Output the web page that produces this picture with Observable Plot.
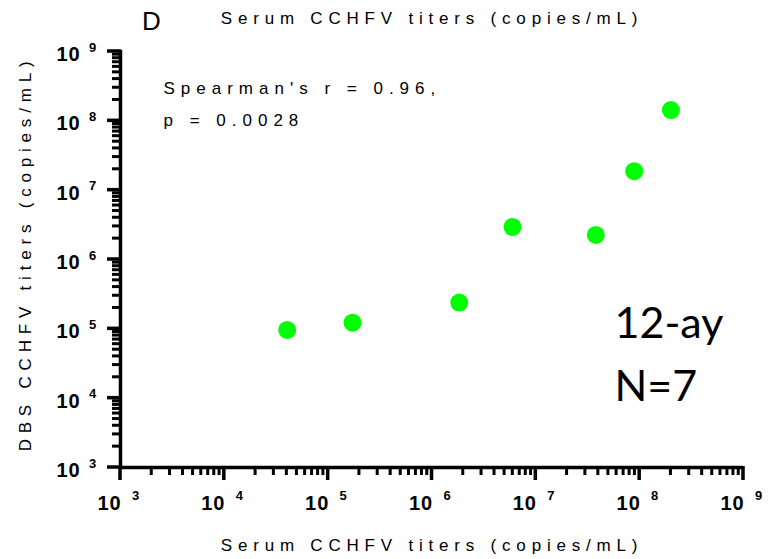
<!DOCTYPE html>
<html>
<head>
<meta charset="utf-8">
<script src="https://cdn.jsdelivr.net/npm/d3@7"></script>
<script src="https://cdn.jsdelivr.net/npm/@observablehq/plot@0.6"></script>
<style>
  body { margin: 0; background: #fff; }
  #chart svg text { font-family: "Liberation Sans", Arial, sans-serif; }
  #chart text[aria-label="wide"] { letter-spacing: 5.8px; }
  #chart text[aria-label="stat"] { letter-spacing: 6px; }
  #chart text[aria-label="tick10"] { letter-spacing: 1px; }
  #chart text[aria-label="group"] { font-family: Lato, "Open Sans", sans-serif; letter-spacing: 0; }
</style>
</head>
<body>
<div id="chart"></div>
<script>
// serum vs DBS titers (copies/mL)
const serum = [40300, 171600, 1830000, 5960000, 37800000, 88600000, 200000000];
const dbs = [96400, 122800, 238800, 2950000, 2260000, 18800000, 143000000];

const decades = [1e3, 1e4, 1e5, 1e6, 1e7, 1e8, 1e9];
const minors = [];
for (let i = 0; i < decades.length - 1; i++) {
  for (let m = 2; m <= 9; m++) minors.push(decades[i] * m);
}

const xTitle = "Serum CCHFV titers (copies/mL)";
const yTitle = "DBS CCHFV titers (copies/mL)";
const panel = "D";
const statLines = ["Spearman's r = 0.96,", "p = 0.0028"];
const groupLines = ["12-ay", "N=7"];

const points = serum.map((s, i) => ({serum: s, dbs: dbs[i]}));
const exp = d => String(Math.round(Math.log10(d)));

const W = 769, H = 559, mL = 120, mR = 26, mT = 51, mB = 92;
const fw = W - mL - mR, fh = H - mT - mB;
const lbl = name => () => name;

// small filled bars hanging outside the frame, used as axis ticks
const xTicks = (data, len, w) => Plot.rect(data, {x1: d => d, x2: d => d, insetLeft: -w / 2, insetRight: -w / 2,
  insetTop: fh - 1, insetBottom: -len, fill: "#000"});
const yTicks = (data, len, w) => Plot.rect(data, {y1: d => d, y2: d => d, insetTop: -w / 2, insetBottom: -w / 2,
  insetRight: fw - 1, insetLeft: -len, fill: "#000"});

const chart = Plot.plot({
  width: W,
  height: H,
  marginLeft: mL,
  marginRight: mR,
  marginTop: mT,
  marginBottom: mB,
  style: {background: "#fff", color: "#000", overflow: "visible"},
  x: {type: "log", domain: [1e3, 1e9], axis: null},
  y: {type: "log", domain: [1e3, 1e9], axis: null},
  marks: [
    xTicks(minors, 8, 3),
    xTicks(decades, 13, 3.5),
    yTicks(minors, 8, 3),
    yTicks(decades, 13, 3.5),
    Plot.ruleY([1e3], {strokeWidth: 3.5}),
    Plot.ruleX([1e3], {strokeWidth: 3.5, insetTop: -1}),

    // tick labels "10" + exponent
    Plot.text(decades, {x: d => d, text: () => "10", frameAnchor: "bottom", lineAnchor: "middle",
      dy: 36, dx: -11, fontSize: 20, fontWeight: "bold", ariaLabel: lbl("tick10")}),
    Plot.text(decades, {x: d => d, text: exp, frameAnchor: "bottom", lineAnchor: "middle",
      dy: 28, dx: 15, fontSize: 13, fontWeight: "bold"}),
    Plot.text(decades, {y: d => d, text: () => "10", frameAnchor: "left", textAnchor: "middle",
      lineAnchor: "middle", dx: -52, dy: 3, fontSize: 20, fontWeight: "bold", ariaLabel: lbl("tick10")}),
    Plot.text(decades, {y: d => d, text: exp, frameAnchor: "left", textAnchor: "middle",
      lineAnchor: "middle", dx: -28, dy: -4, fontSize: 13, fontWeight: "bold"}),

    // titles
    Plot.text([xTitle], {frameAnchor: "bottom", lineAnchor: "middle", dy: 78, fontSize: 17,
      ariaLabel: lbl("wide")}),
    Plot.text([xTitle], {frameAnchor: "top", lineAnchor: "middle", dy: -33, fontSize: 17,
      ariaLabel: lbl("wide")}),
    Plot.text([yTitle], {frameAnchor: "left", textAnchor: "middle", lineAnchor: "middle",
      rotate: -90, dx: -95, dy: -6, fontSize: 17, ariaLabel: lbl("wide")}),
    Plot.text([panel], {frameAnchor: "top-left", textAnchor: "middle", lineAnchor: "middle",
      dx: 31, dy: -30, fontSize: 26}),

    // annotations
    Plot.text([statLines.join("\n")], {frameAnchor: "top-left", textAnchor: "start", lineAnchor: "middle",
      dx: 43, dy: 48, fontSize: 17, lineHeight: 1.88, ariaLabel: lbl("stat")}),
    Plot.text([groupLines.join("\n")], {frameAnchor: "top-left", textAnchor: "start", lineAnchor: "middle",
      dx: 494, dy: 298, fontSize: 43, lineHeight: 1.45, ariaLabel: lbl("group")}),

    Plot.dot(points, {x: "serum", y: "dbs", r: 9, fill: "#00ff00"})
  ]
});

document.getElementById("chart").append(chart);
</script>
</body>
</html>
